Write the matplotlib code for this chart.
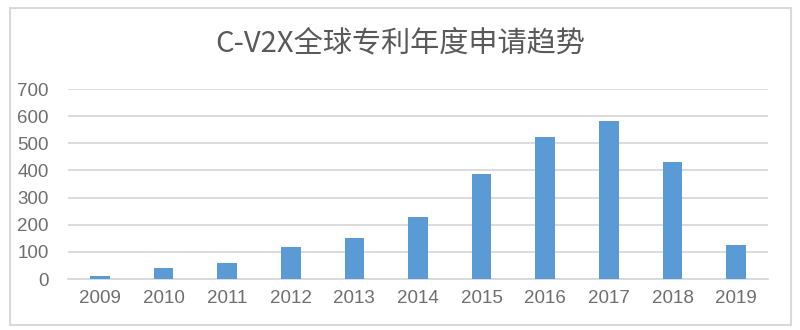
import matplotlib
matplotlib.use("Agg")
import matplotlib.pyplot as plt
from matplotlib.patches import Rectangle

plt.rcParams['font.family'] = ['Noto Sans CJK SC', 'DejaVu Sans']

# Data
years = ["2009", "2010", "2011", "2012", "2013", "2014",
         "2015", "2016", "2017", "2018", "2019"]
patents = [10, 40, 59, 119, 151, 228, 386, 522, 581, 430, 125]
y_ticks = [0, 100, 200, 300, 400, 500, 600, 700]

bar_color = "#5B9BD5"
text_color = "#595959"
tick_color = "#6E6E6E"
grid_color = "#D9D9D9"

fig = plt.figure(figsize=(8, 3.3), dpi=100)

# outer chart border
fig.patches.append(Rectangle((0.0125, 0.015), 0.976, 0.96, transform=fig.transFigure,
                             fill=False, edgecolor=grid_color, linewidth=1.5))

ax = fig.add_axes([0.085, 0.1545, 0.875, 0.5755])
x = range(len(years))
ax.bar(x, patents, width=0.31, color=bar_color, zorder=3)

ax.set_xlim(-0.5, len(years) - 0.5)
ax.set_ylim(0, 700)
ax.set_yticks(y_ticks)
ax.set_xticks(list(x))
ax.set_xticklabels(years)
ax.yaxis.grid(True, color=grid_color, linewidth=1.3, zorder=0)
ax.set_axisbelow(True)

for side in ["top", "right", "left"]:
    ax.spines[side].set_visible(False)
ax.spines["bottom"].set_color(grid_color)
ax.spines["bottom"].set_linewidth(1.3)

ax.tick_params(axis="both", length=0, labelsize=13.5, colors=tick_color)
ax.tick_params(axis="y", pad=14)
ax.tick_params(axis="x", pad=8)
for lbl in ax.get_xticklabels() + ax.get_yticklabels():
    lbl.set_family(["Liberation Sans", "DejaVu Sans"])

fig.text(0.5, 0.868, "C-V2X全球专利年度申请趋势", ha="center", va="center",
         fontsize=21, color=text_color)

fig.savefig("out.png", dpi=100)
